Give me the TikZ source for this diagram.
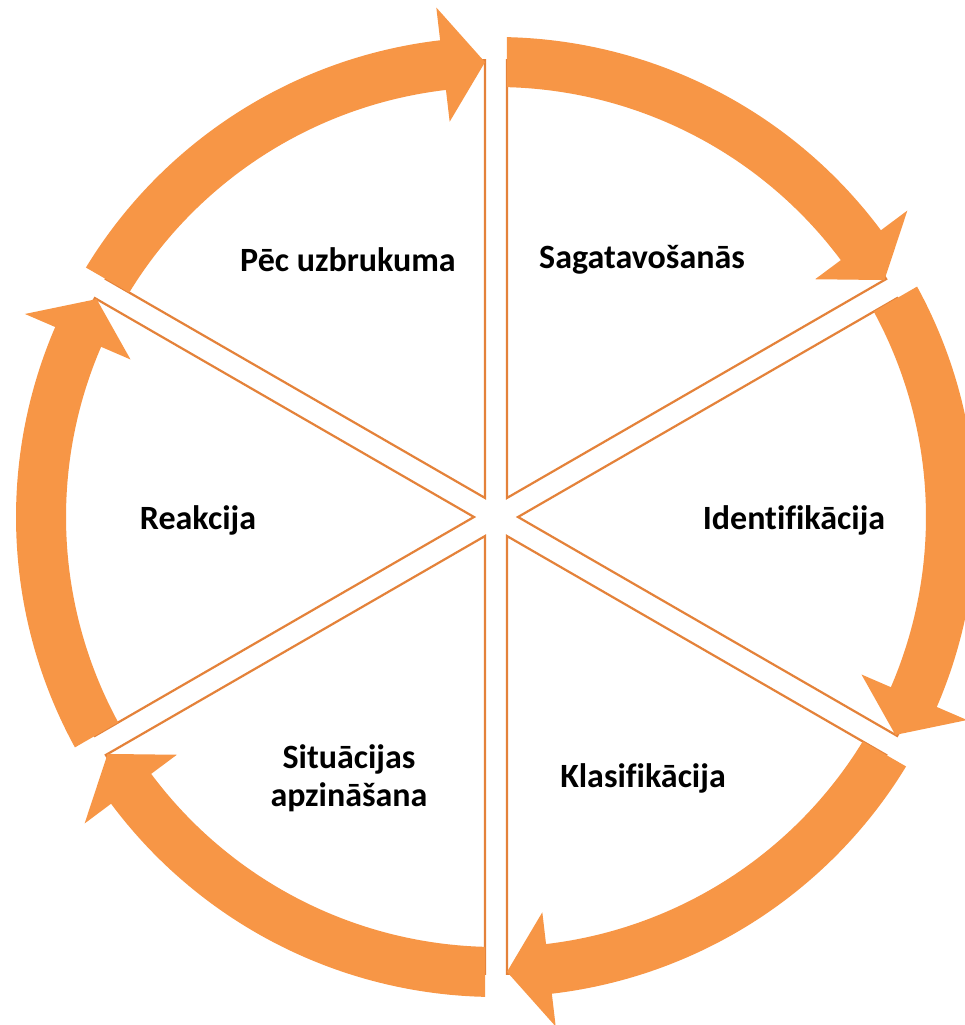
\documentclass[tikz,border=0pt]{standalone}
\usepackage{fontspec}
\setmainfont{Carlito}[Ligatures={NoCommon}]
\usepackage{tikz}
\usetikzlibrary{positioning}
\definecolor{cycleorange}{RGB}{247,150,70}
\definecolor{cycleline}{RGB}{228,130,58}
\tikzset{
    stage/.style = {text centered, align=center, font=\fontsize{34}{38}\selectfont\bfseries, text=black},
    sector/.style = {draw=cycleline, line width=2.2pt, fill=white, line join=miter},
    cyclearrow/.style = {fill=cycleorange}
}

\begin{document}
\begin{tikzpicture}[
    x=1pt, y=1pt
]
    \useasboundingbox (-496,-508) rectangle (469,517);

    % wedges between the spokes
    \foreach \a in {90,30,-30,-90,-150,-210} {
        \pgfmathsetmacro{\s}{\a-60+asin(11/457)}
        \pgfmathsetmacro{\e}{\a-asin(11/457)}
        \draw [sector] (\a-30:22) -- (\s:457) arc [start angle=\s, end angle=\e, radius=457] -- cycle;
    }

    % clockwise arrows
    \foreach \a in {90,30,-30,-90,-150,-210} {
        \pgfmathsetmacro{\to}{\a-asin(11/480)}
        \pgfmathsetmacro{\ti}{\a-asin(11/430)}
        \pgfmathsetmacro{\tip}{\a-60+asin(11/455)}
        \pgfmathsetmacro{\base}{\tip+5.3}
        \fill [cyclearrow] (\to:480) arc [start angle=\to, end angle=\base, radius=480]
            -- (\base:513) -- (\tip:455) -- (\base:398) -- (\base:430)
            arc [start angle=\base, end angle=\ti, radius=430] -- cycle;
    }

    \node [stage] (after) at (-148,257) {Pēc uzbrukuma};
    \node [stage] (prep) at (146,257) {Sagatavošanās};
    \node [stage] (ident) at (298,-3) {Identifikācija};
    \node [stage] (class) at (147,-261) {Klasifikācija};
    \node [stage] (aware) at (-147,-261) {Situācijas\\apzināšana};
    \node [stage] (react) at (-298,-3) {Reakcija};
\end{tikzpicture}
\end{document}
